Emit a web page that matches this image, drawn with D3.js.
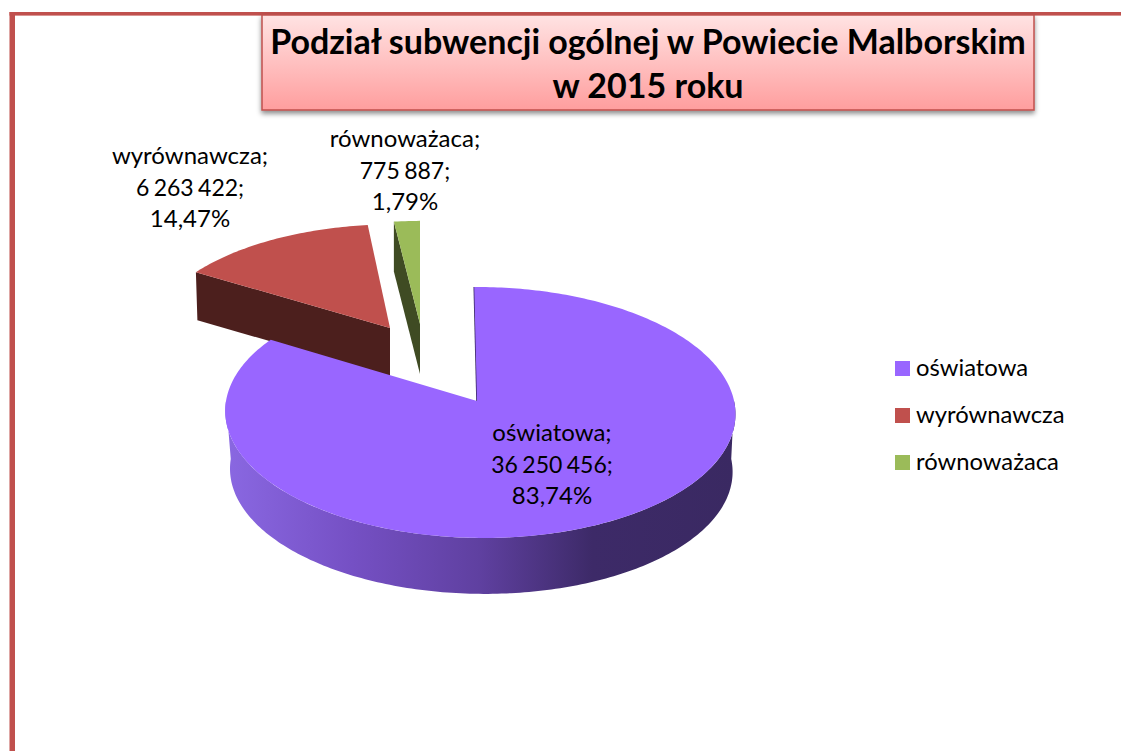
<!DOCTYPE html>
<html>
<head>
<meta charset="utf-8">
<script src="https://cdn.jsdelivr.net/npm/d3@7"></script>
<style>
  html, body { margin: 0; padding: 0; background: #fff; }
  svg { display: block; font-family: Lato, "Open Sans", sans-serif; }
</style>
</head>
<body>
<div id="chart"></div>
<script>
const titleLines = ["Podział subwencji ogólnej w Powiecie Malborskim", "w 2015 roku"];
const categories = ["oświatowa", "wyrównawcza", "równoważaca"];
const values = [36250456, 6263422, 775887];
const valueLabels = ["36 250 456", "6 263 422", "775 887"];
const percentLabels = ["83,74%", "14,47%", "1,79%"];
const colors = ["#9966ff", "#c0504d", "#9bbb59"];
const wallColors = ["#3c2a66", "#4c1f1d", "#3f4b23"];

const W = 1121, H = 751;

// where each exploded slice ends up on the page (apex, size, skew, wall height)
const sliceLayout = [
  { ax: 477, ay: 401, sx: 1, sy: 1, skew: -3, depth: 58, lx: 552, ly: 441 },
  { ax: 390, ay: 328, sx: 0.955, sy: 0.91, skew: 3.1, depth: 48, lx: 190, ly: 164 },
  { ax: 420, ay: 324, sx: 1, sy: 0.905, skew: 0, depth: 50, lx: 405, ly: 147 },
];

const svg = d3.select("#chart").append("svg")
  .attr("viewBox", `0 0 ${W} ${H}`)
  .attr("width", W).attr("height", H);

const defs = svg.append("defs");
const titleGrad = defs.append("linearGradient").attr("id", "titleGrad")
  .attr("x1", 0).attr("y1", 0).attr("x2", 0).attr("y2", 1);
titleGrad.append("stop").attr("offset", 0).attr("stop-color", "#ffe3e3");
titleGrad.append("stop").attr("offset", 1).attr("stop-color", "#ff9e9e");

const wallGrad = defs.append("linearGradient").attr("id", "wallGrad")
  .attr("gradientUnits", "userSpaceOnUse")
  .attr("x1", 225).attr("y1", 0).attr("x2", 735).attr("y2", 0);
[[0, "#8a68e2"], [0.25, "#7550c4"], [0.5, "#5f40a0"], [0.72, "#3d2a68"], [1, "#3a2962"]]
  .forEach(([o, c]) => wallGrad.append("stop").attr("offset", o).attr("stop-color", c));

const shadow = defs.append("filter").attr("id", "boxShadow")
  .attr("x", "-5%").attr("y", "-10%").attr("width", "110%").attr("height", "125%");
shadow.append("feDropShadow").attr("dx", 0).attr("dy", 3).attr("stdDeviation", 2.5)
  .attr("flood-color", "#000").attr("flood-opacity", 0.45);

// frame
svg.append("rect").attr("x", 9.5).attr("y", 12).attr("width", 5.5).attr("height", H - 12).attr("fill", "#c0504d");
svg.append("rect").attr("x", 9.5).attr("y", 12).attr("width", W - 9.5).attr("height", 3.6).attr("fill", "#c0504d");

// title box
svg.append("rect").attr("x", 262).attr("y", 15).attr("width", 772).attr("height", 95)
  .attr("fill", "url(#titleGrad)").attr("stroke", "#c0504d").attr("stroke-width", 1.5)
  .attr("filter", "url(#boxShadow)");
svg.append("g").selectAll("text").data(titleLines).join("text")
  .attr("x", 648).attr("y", (d, i) => 54 + i * 44)
  .attr("text-anchor", "middle")
  .attr("font-size", 34).attr("font-weight", 700).attr("fill", "#000")
  .text(d => d);

// pie, drawn through a small perspective projection of the unit circle
const pie = d3.pie().value(d => d).sort(null);
const arcs = pie(values);

function project(theta, L, ox, oy, shrink = 1) {
  const u = Math.sin(theta), v = Math.cos(theta);
  const w = 1 + 0.0916 * v - 0.012 * u;
  return [
    ox + shrink * L.sx * (254 * u + L.skew * v) / w,
    oy - shrink * L.sy * 124.4 * v / w,
  ];
}
function arcPoints(a0, a1, L, ox, oy, shrink) {
  const n = Math.max(4, Math.ceil((a1 - a0) * 60));
  return d3.range(n + 1).map(i => project(a0 + (a1 - a0) * i / n, L, ox, oy, shrink));
}
const line = d3.line();

// purple goes last: its face covers the foot of the red wall
[1, 2, 0].forEach(i => {
  const a = arcs[i], L = sliceLayout[i];
  const g = svg.append("g");
  const rim = arcPoints(a.startAngle, a.endAngle, L, L.ax, L.ay);
  if (i === 0) {
    const ba = Math.PI * 0.5, bb = Math.PI * 1.5;
    const top = arcPoints(ba, bb, L, L.ax, L.ay);
    const base = arcPoints(ba, bb, L, L.ax + 1, L.ay + L.depth, 0.985).reverse();
    g.append("path").attr("d", line(top.concat(base)) + "Z").attr("fill", "url(#wallGrad)");
    g.append("path").attr("d", line([rim[0], [L.ax, L.ay]]))
      .attr("stroke", wallColors[0]).attr("stroke-width", 1.6).attr("fill", "none");
  } else {
    // cut face on the side turned to the viewer
    const q = rim[0];
    g.append("path").attr("d", line([
      q, [L.ax, L.ay], [L.ax, L.ay + L.depth], [q[0] + (i === 1 ? 1.5 : 0), q[1] + L.depth]
    ]) + "Z").attr("fill", wallColors[i]);
  }
  g.append("path").attr("d", line([[L.ax, L.ay]].concat(rim)) + "Z").attr("fill", colors[i]);
});

// data labels
categories.forEach((c, i) => {
  const L = sliceLayout[i];
  svg.append("g").selectAll("text")
    .data([c + ";", valueLabels[i] + ";", percentLabels[i]]).join("text")
    .attr("x", L.lx).attr("y", (d, k) => L.ly + k * 31.5)
    .attr("text-anchor", "middle").attr("fill", "#000")
    .attr("font-size", (d, k) => k === 1 ? 23 : 24)
    .attr("word-spacing", (d, k) => k === 1 ? -1.5 : 0)
    .text(d => d);
});

// legend
const legendY = d3.scalePoint().domain(categories).range([361, 455]);
const legend = svg.append("g").selectAll("g").data(categories).join("g")
  .attr("transform", d => `translate(895,${legendY(d)})`);
legend.append("rect").attr("width", 15).attr("height", 15).attr("fill", (d, i) => colors[i]);
legend.append("text").attr("x", 21).attr("y", 15).attr("font-size", 23.8).attr("fill", "#000").text(d => d);
</script>
</body>
</html>
